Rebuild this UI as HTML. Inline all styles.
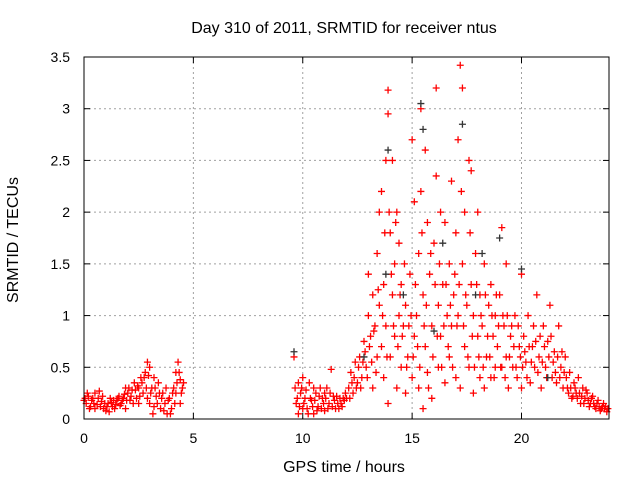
<!DOCTYPE html>
<html><head><meta charset="utf-8"><style>
body{margin:0;background:#fff}
svg{display:block;font-family:"Liberation Sans",sans-serif}
</style></head><body>
<svg id="chart" width="640" height="480">
<text x="344" y="33" font-size="16" text-anchor="middle">Day 310 of 2011, SRMTID for receiver ntus</text>
<text transform="translate(18,240) rotate(-90)" font-size="16" text-anchor="middle">SRMTID / TECUs</text>
<text x="344" y="472" font-size="16" text-anchor="middle">GPS time / hours</text>
<g id="grid"></g>
<g id="axes"></g>
<g id="red"></g>
<g id="black"></g>
<rect x="84" y="57" width="525" height="362" fill="none" stroke="#000" stroke-width="1"/>
</svg>
<script>
const xTicks=[0,5,10,15,20];
const yTicks=[0,0.5,1,1.5,2,2.5,3,3.5];
const yTickLabels=["0","0.5","1","1.5","2","2.5","3","3.5"];
const redHours=[0,0.1,0.2,0.3,0.4,0.5,0.6,0.7,0.8,0.9,1,1.1,1.2,1.3,1.4,1.5,1.6,1.7,1.8,1.9,2,2.1,2.2,2.3,2.4,2.5,2.6,2.7,2.8,2.9,3,3.1,3.2,3.3,3.4,3.5,3.6,3.7,3.8,3.9,4,4.1,4.2,4.3,4.4,4.5,2.9,3,3.2,4.2,4.4,1.9,2.5,0.5,
9.6,9.65,9.7,9.8,9.9,10,10.1,10.2,10.3,10.4,10.5,10.6,10.7,10.8,10.9,11,11.1,11.2,11.3,11.4,11.5,11.6,11.7,11.8,11.9,12,10,10.5,11,9.8,
12.1,12.2,12.3,12.4,12.5,12.6,12.7,12.8,12.9,13,13,13.1,13.2,13.2,13.3,13.4,13.4,13.5,13.5,
13.6,13.6,13.7,13.7,13.8,13.8,13.9,13.9,13.9,14,14,14.1,14.1,14.2,14.2,14.3,14.3,14.4,14.4,14.5,14.5,14.6,14.7,14.7,14.8,14.9,15,15,15.1,15.1,15.2,15.3,15.3,15.4,15.4,15.5,15.5,15.6,15.6,15.7,15.7,15.8,15.9,15.9,16,16.1,16.1,16.2,16.2,16.3,16.3,16.4,16.5,16.5,16.6,16.7,16.7,16.8,16.8,16.9,17,17,17.1,17.1,17.2,17.2,17.3,17.3,17.4,17.4,17.5,17.6,17.6,17.7,17.7,17.8,17.8,17.9,18,18,18.1,18.1,18.2,18.3,18.3,18.4,18.5,18.6,18.6,18.7,18.8,18.8,18.9,19,19.1,19.1,19.2,19.3,19.3,19.4,19.5,
19.6,19.7,19.8,19.9,20,20,20.1,20.2,20.3,20.4,20.5,20.6,20.7,20.8,20.9,21,21.1,21.2,21.3,21.4,21.5,21.6,21.7,21.8,21.9,22,
22.1,22.2,22.3,22.4,22.5,22.6,22.7,22.8,22.9,23,23.1,23.2,23.3,23.4,23.5,23.6,23.7,23.8,23.9];
const redValues=[0.18,0.15,0.22,0.12,0.2,0.25,0.14,0.27,0.17,0.1,0.08,0.15,0.2,0.12,0.1,0.18,0.22,0.15,0.2,0.3,0.25,0.18,0.28,0.35,0.2,0.3,0.4,0.25,0.45,0.55,0.5,0.3,0.12,0.22,0.35,0.1,0.25,0.15,0.05,0.2,0.1,0.3,0.45,0.55,0.38,0.3,0.2,0.15,0.4,0.25,0.15,0.1,0.15,0.1,
0.6,0.3,0.15,0.05,0.25,0.4,0.2,0.1,0.35,0.18,0.05,0.25,0.12,0.3,0.2,0.08,0.3,0.15,0.48,0.22,0.1,0.15,0.2,0.12,0.18,0.2,0.1,0.3,0.25,0.35,
0.3,0.45,0.25,0.55,0.35,0.6,0.4,0.75,0.5,1.0,1.4,0.8,0.3,1.2,0.9,0.6,1.6,2.0,1.1,
0.7,2.2,1.3,0.4,2.5,0.9,3.18,2.95,0.15,1.8,0.6,2.5,1.2,0.8,1.5,2.0,0.3,1.0,1.7,0.5,1.3,0.9,0.25,1.1,0.6,1.4,2.7,0.4,2.1,0.8,1.0,0.3,1.6,3.0,2.2,0.1,1.2,0.7,2.6,1.9,0.45,1.4,0.2,0.9,1.7,2.35,3.2,1.1,0.5,2.0,0.8,1.3,0.35,1.9,1.0,0.6,1.5,2.3,0.9,1.2,0.4,1.8,2.7,1.0,3.42,0.3,3.2,1.5,2.0,0.7,1.1,2.5,0.5,1.3,2.4,0.25,1.0,1.6,0.8,2.0,0.4,1.2,0.9,1.5,0.3,0.6,1.1,0.4,1.3,0.8,0.5,1.0,0.7,1.2,1.85,0.5,0.9,0.6,1.5,0.3,0.8,
0.5,1.0,0.4,0.7,1.4,0.3,0.8,0.55,1.0,0.35,0.7,0.5,1.2,0.6,0.3,0.9,0.5,0.75,1.1,0.4,0.65,0.35,0.9,0.5,0.3,0.6,
0.3,0.45,0.2,0.35,0.25,0.4,0.15,0.3,0.2,0.25,0.12,0.2,0.15,0.1,0.18,0.08,0.12,0.1,0.07];
const redHoursB=[0.05,0.15,0.25,0.35,0.45,0.65,0.75,0.85,0.95,1.05,1.15,1.25,1.35,1.45,1.55,1.65,1.75,1.85,1.95,2.05,2.15,2.25,2.35,2.45,2.55,2.65,2.75,2.85,2.95,3.05,3.15,3.25,3.35,3.45,3.55,3.65,3.75,3.85,3.95,4.05,4.15,4.25,4.35,4.45,4.55,
9.75,9.85,9.95,10.05,10.15,10.25,10.35,10.45,10.55,10.65,10.75,10.85,10.95,11.05,11.15,11.25,11.35,11.45,11.55,11.65,11.75,11.85,11.95,
12.15,12.25,12.35,12.45,12.55,12.65,12.75,12.85,12.95,13.05,13.15,13.25,13.35,13.45,
13.65,13.75,13.85,13.95,14.05,14.15,14.25,14.35,14.45,14.55,14.65,14.75,14.85,14.95,15.05,15.15,15.25,15.35,15.45,15.55,15.65,15.75,15.85,15.95,16.05,16.15,16.25,16.35,16.45,16.55,16.65,16.75,16.85,16.95,17.05,17.15,17.25,17.35,17.45,17.55,17.65,17.75,17.85,17.95,18.05,18.15,18.25,18.35,18.45,18.55,18.65,18.75,18.85,18.95,19.05,19.15,19.25,19.35,19.45,19.55,
19.65,19.75,19.85,19.95,20.05,20.15,20.25,20.35,20.45,20.55,20.65,20.75,20.85,20.95,21.05,21.15,21.25,21.35,21.45,21.55,21.65,21.75,21.85,21.95,
22.05,22.15,22.25,22.35,22.45,22.55,22.65,22.75,22.85,22.95,23.05,23.15,23.25,23.35,23.45,23.55,23.65,23.75,23.85,23.95];
const redValuesB=[0.2,0.25,0.1,0.18,0.15,0.2,0.12,0.22,0.15,0.12,0.07,0.16,0.18,0.14,0.2,0.13,0.18,0.24,0.18,0.3,0.22,0.15,0.28,0.32,0.22,0.35,0.4,0.3,0.42,0.25,0.05,0.3,0.15,0.25,0.2,0.08,0.3,0.18,0.05,0.25,0.15,0.35,0.45,0.25,0.35,
0.2,0.12,0.3,0.15,0.28,0.05,0.2,0.12,0.18,0.08,0.22,0.1,0.15,0.2,0.1,0.25,0.12,0.18,0.22,0.1,0.15,0.2,0.25,
0.2,0.35,0.4,0.3,0.5,0.3,0.55,0.65,0.4,0.7,0.55,0.85,0.45,1.25,
1.0,1.8,0.6,2.0,1.4,0.9,1.9,0.7,1.2,0.8,1.5,0.5,0.9,1.0,0.6,1.3,0.7,0.5,1.8,0.9,1.1,0.3,1.6,0.6,1.3,0.8,1.5,0.5,0.9,1.3,0.7,1.1,0.5,1.4,0.9,1.3,2.2,0.9,1.2,0.6,1.8,0.8,0.5,1.3,0.6,1.0,0.5,1.2,0.8,0.6,1.0,0.4,1.2,0.9,0.5,1.0,0.4,1.0,0.6,0.9,
0.7,0.5,0.9,0.6,0.5,0.65,0.4,0.7,0.55,0.9,0.75,0.45,0.8,0.55,0.7,0.4,0.6,0.8,0.55,0.45,0.6,0.4,0.65,0.45,
0.4,0.25,0.3,0.22,0.3,0.2,0.25,0.22,0.15,0.28,0.18,0.15,0.22,0.12,0.15,0.12,0.1,0.15,0.12,0.1];
const blackHours=[13.9,15.4,15.5,13.8,16.4,17.3,18.2,19.0,20.0,9.6,14.6,16.0,17.9,12.8,21.2];
const blackValues=[2.6,3.05,2.8,1.4,1.7,2.85,1.6,1.75,1.45,0.65,1.2,0.85,1.2,0.6,0.4];
const X0=84,X1=609,Y0=419,Y1=57,XMAX=24,YMAX=3.5;
const xs=v=>X0+(X1-X0)*v/XMAX;
const ys=v=>Y0-(Y0-Y1)*v/YMAX;
const NS="http://www.w3.org/2000/svg";
function mk(t,a,p){const e=document.createElementNS(NS,t);for(const k in a)e.setAttribute(k,a[k]);p.appendChild(e);return e;}
const grid=document.getElementById('grid'),axes=document.getElementById('axes');
xTicks.forEach((t,i)=>{const x=xs(t);
 if(t>0){const g=mk('line',{x1:x,x2:x,y1:Y0,y2:Y1,stroke:'#a0a0a0','stroke-dasharray':'2,3'},grid);
 
 }
 mk('line',{x1:x,x2:x,y1:Y0,y2:Y0-6,stroke:'#000'},axes);mk('line',{x1:x,x2:x,y1:Y1,y2:Y1+6,stroke:'#000'},axes);
 const l=mk('text',{x:x,y:443,'font-size':14,'text-anchor':'middle'},axes);l.textContent=String(t);
 
 });
yTicks.forEach((t,i)=>{const y=ys(t);
 if(t>0&&t<YMAX){const g=mk('line',{x1:X0,x2:X1,y1:y,y2:y,stroke:'#a0a0a0','stroke-dasharray':'2,3'},grid);
 
 }
 mk('line',{x1:X0,x2:X0+6,y1:y,y2:y,stroke:'#000'},axes);mk('line',{x1:X1,x2:X1-6,y1:y,y2:y,stroke:'#000'},axes);
 const l=mk('text',{x:70,y:y+5,'font-size':14,'text-anchor':'end'},axes);l.textContent=yTickLabels[i];
 
 });
function plus(g,h,v,c){const x=xs(h),y=ys(v);
 const p=mk('path',{d:`M${x-3.5} ${y}H${x+3.5}M${x} ${y-3.5}V${y+3.5}`,stroke:c,'stroke-width':1.3,fill:'none'},g);
 
 }
const rg=document.getElementById('red'),bg=document.getElementById('black');
blackHours.forEach((h,i)=>plus(bg,h,blackValues[i],'#333'));
redHours.forEach((h,i)=>plus(rg,h,redValues[i],'#ff0000'));
redHoursB.forEach((h,i)=>plus(rg,h,redValuesB[i],'#ff0000'));
</script>
</body></html>
